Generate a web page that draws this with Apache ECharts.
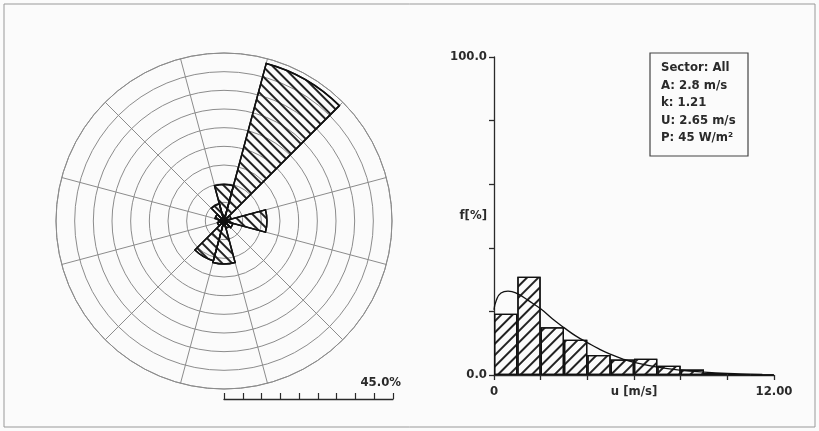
<!DOCTYPE html>
<html>
<head>
<meta charset="utf-8">
<script src="https://cdn.jsdelivr.net/npm/echarts@6/dist/echarts.min.js"></script>
<style>
html,body{margin:0;padding:0;background:#fbfbfb;}
#c{width:819px;height:431px;}
</style>
</head>
<body>
<div id="c"></div>
<script>
// ---- data ----
const directions = ['N','NNE','ENE','E','ESE','SSE','S','SSW','WSW','W','WNW','NNW'];
const sectorFreq = [9.8, 43.7, 2.0, 11.5, 2.5, 2.0, 11.5, 11.0, 1.8, 1.5, 2.5, 4.8];
const roseMax = 45;
const roseStep = 5;

const binLabels = ['0-1','1-2','2-3','3-4','4-5','5-6','6-7','7-8','8-9','9-10','10-11','11-12'];
const binFreq = [19.3, 30.9, 15.0, 11.1, 6.3, 4.9, 5.1, 2.9, 1.7, 0.6, 0.2, 0.1];
const curveU = [0, 0.1, 0.3, 0.6, 1.0, 1.5, 2.0, 2.5, 3.0, 3.5, 4.0, 4.5, 5.0, 5.5, 6.0, 7.0, 8.0, 9.0, 10.0, 11.0, 11.5];
const curveF = [20.5, 23.5, 25.8, 26.4, 25.6, 23.3, 20.8, 17.7, 14.9, 12.3, 10.2, 8.2, 6.5, 5.1, 4.0, 2.5, 1.5, 0.9, 0.5, 0.3, 0.2];
const xTickLabels = {0: '0', 12: '12.00'};
const yTickLabels = {0: '0.0', 100: '100.0'};
const xName = 'u [m/s]';
const yName = 'f[%]';
const statLines = ['Sector: All', 'A: 2.8 m/s', 'k: 1.21', 'U: 2.65 m/s', 'P: 45 W/m²'];

// ---- chart ----
const FONT = '"DejaVu Sans Condensed", "DejaVu Sans", sans-serif';
const TXT = '#2a2a2a';
const FS = 13;
const FW = 'bold';
const chart = echarts.init(document.getElementById('c'), null, {renderer: 'canvas'});

const option = {
  backgroundColor: '#fbfbfb',
  animation: false,
  polar: {center: [224, 221], radius: 168},
  angleAxis: {
    type: 'category', data: directions, startAngle: 105, clockwise: true, boundaryGap: true,
    axisLine: {show: true, lineStyle: {color: '#8c8c8c', width: 1}},
    axisTick: {show: false}, axisLabel: {show: false},
    splitLine: {show: true, lineStyle: {color: '#8c8c8c', width: 1}}
  },
  radiusAxis: {
    type: 'value', min: 0, max: roseMax, interval: roseStep,
    axisLine: {show: false}, axisTick: {show: false}, axisLabel: {show: false},
    splitLine: {show: true, lineStyle: {color: '#8c8c8c', width: 1}}
  },
  grid: [
    {left: 494, top: 57, width: 280, height: 318},
    {left: 224, top: 380, width: 169, height: 19}
  ],
  xAxis: [
    {
      gridIndex: 0, type: 'value', min: 0, max: 12, interval: 2,
      axisLine: {show: true, onZero: false, lineStyle: {color: TXT, width: 1.3}},
      axisTick: {show: true, length: 5, lineStyle: {color: TXT, width: 1.3}},
      splitLine: {show: false},
      axisLabel: {show: true, margin: 10, color: TXT, fontFamily: FONT, fontSize: FS, fontWeight: FW,
        formatter: v => (xTickLabels[v] !== undefined ? xTickLabels[v] : '')},
      name: xName, nameLocation: 'middle', nameGap: 10, nameMoveOverlap: false,
      nameTextStyle: {color: TXT, fontFamily: FONT, fontSize: FS, fontWeight: FW, verticalAlign: 'top'}
    },
    {gridIndex: 0, type: 'category', data: binLabels, show: false, boundaryGap: true},
    {
      gridIndex: 1, type: 'value', min: 0, max: roseMax, interval: roseStep,
      axisLine: {show: true, onZero: false, lineStyle: {color: TXT, width: 1.3}},
      axisTick: {show: true, inside: true, length: 6, lineStyle: {color: TXT, width: 1.2}},
      axisLabel: {show: false}, splitLine: {show: false}
    }
  ],
  yAxis: [
    {
      gridIndex: 0, type: 'value', min: 0, max: 100, interval: 20,
      axisLine: {show: true, lineStyle: {color: TXT, width: 1.3}},
      axisTick: {show: true, length: 5, lineStyle: {color: TXT, width: 1.3}},
      splitLine: {show: false},
      axisLabel: {show: true, margin: 7, color: TXT, fontFamily: FONT, fontSize: FS, fontWeight: FW,
        formatter: v => (yTickLabels[v] !== undefined ? yTickLabels[v] : '')},
      name: yName, nameLocation: 'middle', nameRotate: 0, nameGap: 7, nameMoveOverlap: false,
      nameTextStyle: {color: TXT, fontFamily: FONT, fontSize: FS, fontWeight: FW, align: 'right', verticalAlign: 'middle'}
    },
    {gridIndex: 1, type: 'value', min: 0, max: 1, show: false}
  ],
  series: [
    {
      type: 'bar', coordinateSystem: 'polar', data: sectorFreq,
      barCategoryGap: '0%', barGap: '0%',
      itemStyle: {
        color: 'rgba(255,255,255,0)', borderColor: '#111', borderWidth: 1.5,
        decal: {symbol: 'rect', symbolSize: 1, dashArrayX: [1, 0], dashArrayY: [1.3, 5], rotation: Math.PI / 4, color: '#222'}
      },
      silent: true
    },
    {
      type: 'bar', xAxisIndex: 1, yAxisIndex: 0, data: binFreq,
      barCategoryGap: '0%', barGap: '0%',
      itemStyle: {
        color: 'rgba(255,255,255,0)', borderColor: '#111', borderWidth: 1.3,
        decal: {symbol: 'rect', symbolSize: 1, dashArrayX: [1, 0], dashArrayY: [1.3, 6], rotation: -Math.PI / 4, color: '#222'}
      },
      silent: true
    },
    {
      type: 'line', xAxisIndex: 0, yAxisIndex: 0, smooth: true, symbol: 'none',
      data: curveU.map((u, i) => [u, curveF[i]]),
      lineStyle: {color: '#111', width: 1.3}, z: 5, silent: true
    },
    {type: 'line', xAxisIndex: 2, yAxisIndex: 1, data: [], symbol: 'none'}
  ],
  graphic: [
    {type: 'rect', shape: {x: 4, y: 4, width: 811, height: 423}, style: {fill: 'none', stroke: '#999', lineWidth: 1}, silent: true},
    {type: 'rect', shape: {x: 650, y: 53, width: 98, height: 103}, style: {fill: 'none', stroke: '#444', lineWidth: 1.2}, silent: true},
    {type: 'text', x: 661, y: 59, style: {text: statLines.join('\n'), fill: TXT, font: FW + ' ' + FS + 'px ' + FONT, lineHeight: 17.5}, silent: true},
    {type: 'text', x: 401, y: 383, style: {text: roseMax.toFixed(1) + '%', fill: TXT, font: FW + ' ' + FS + 'px ' + FONT, align: 'right', verticalAlign: 'middle'}, silent: true}
  ]
};
chart.setOption(option);
</script>
</body>
</html>
